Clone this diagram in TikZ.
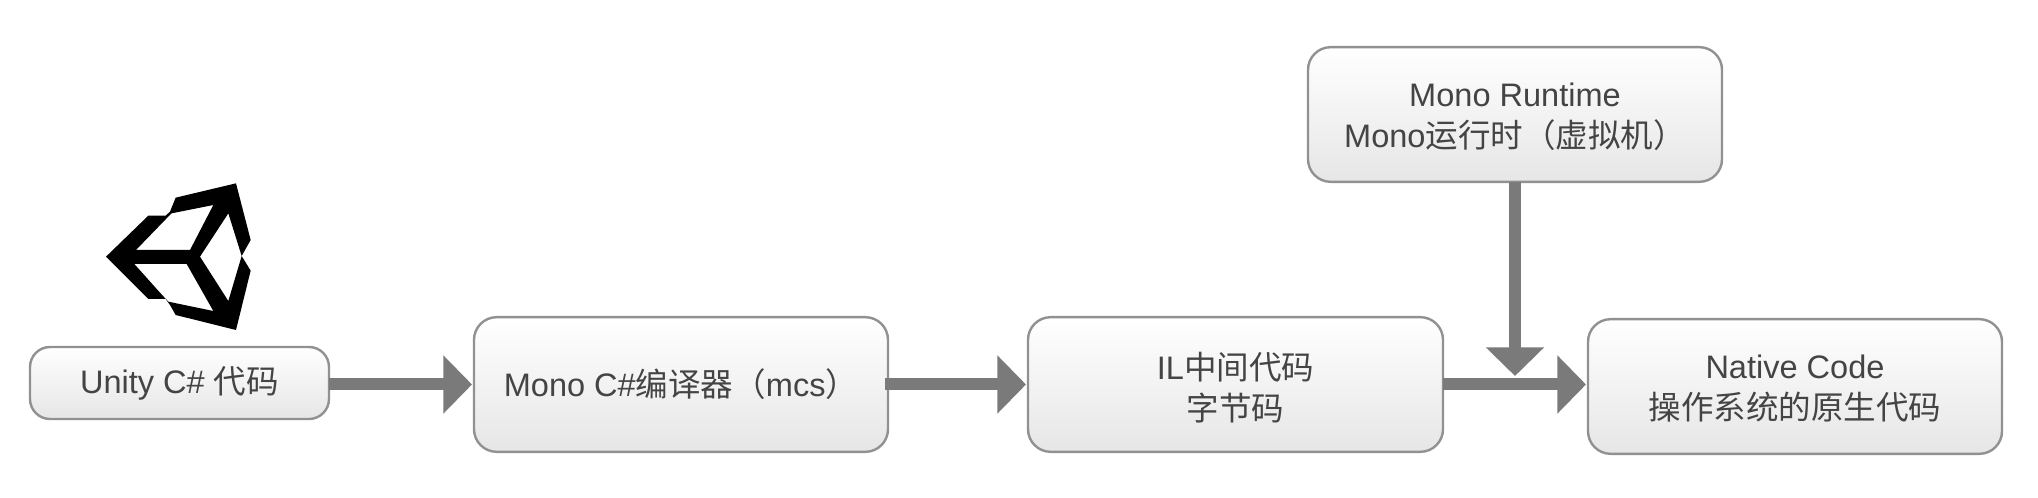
\documentclass[tikz,border=0pt]{standalone}
\usepackage{fontspec}
\setmainfont{Liberation Sans}
\newfontfamily\cjk{Noto Sans CJK SC}
\usetikzlibrary{arrows.meta}
\definecolor{edgegray}{HTML}{919191}
\definecolor{flowgray}{HTML}{7A7A7A}
\definecolor{inkgray}{HTML}{444444}
\definecolor{lowfill}{HTML}{E6E6E6}
\newcommand\topnudge[1]{\rule{0pt}{#1}}
\tikzset{
  px/.style={x=0.75pt,y=-0.75pt},
  box/.style={draw=edgegray,line width=1.8pt,rounded corners=17pt,top color=white,bottom color=lowfill,
    text=inkgray,align=center,inner sep=0pt,outer sep=0pt,
    font=\fontsize{24.4}{30.5}\selectfont},
  flow/.style={draw=flowgray,line width=9pt,shorten >=1.5pt,
    -{Triangle[length=21.5pt,width=42.5pt,fill=flowgray]}},
}
\begin{document}
\begin{tikzpicture}[px]
\useasboundingbox (0,0) rectangle (2038,498);
\node[box,rounded corners=15pt,minimum width=224.25pt,minimum height=54pt] (unity) at (179.5,383) {Unity C\# {\cjk 代码}};
\node[box,minimum width=310.5pt,minimum height=101pt] (mono) at (681,384.5) {Mono C\#{\cjk 编译器（}mcs{\cjk ）}};
\node[box,minimum width=311.25pt,minimum height=101pt] (il) at (1235.5,384.5) {\topnudge{25pt}IL{\cjk 中间代码}\\{\cjk 字节码}};
\node[box,minimum width=310.5pt,minimum height=101pt] (runtime) at (1515,114.5) {\topnudge{21pt}Mono Runtime\\Mono{\cjk 运行时（虚拟机）}};
\node[box,minimum width=310.5pt,minimum height=101pt] (native) at (1795,386.5) {\topnudge{21pt}Native Code\\{\cjk 操作系统的原生代码}};
\coordinate (join) at (1515,376);
\draw[flow] (unity.east |- mono.west) -- (mono.west);
\draw[flow] (mono) ++(204,0) coordinate (monoexit) (monoexit) -- (il.west);
\draw[flow] (il.east) -- (il.east -| native.west);
\draw[flow,shorten >=0pt] (runtime.south) -- (join);
\begin{scope}[shift={(0,150)},x=0.25pt,y=-0.25pt]
\fill[black,even odd rule]
  (318,320) -- (445,197) -- (497,197) -- (510,185) -- (527,143) -- (708,100) -- (752,270) -- (725,318)
  -- (752,362) -- (708,540) -- (527,495) -- (510,465) -- (497,447) -- (445,447) -- cycle
  (408,300) -- (497,208) -- (515,190) -- (640,165) -- (570,300) -- cycle
  (403,342) -- (480,428) -- (505,455) -- (640,483) -- (560,342) -- cycle
  (685,190) -- (725,318) -- (685,453) -- (600,320) -- cycle;
\end{scope}
\end{tikzpicture}
\end{document}
